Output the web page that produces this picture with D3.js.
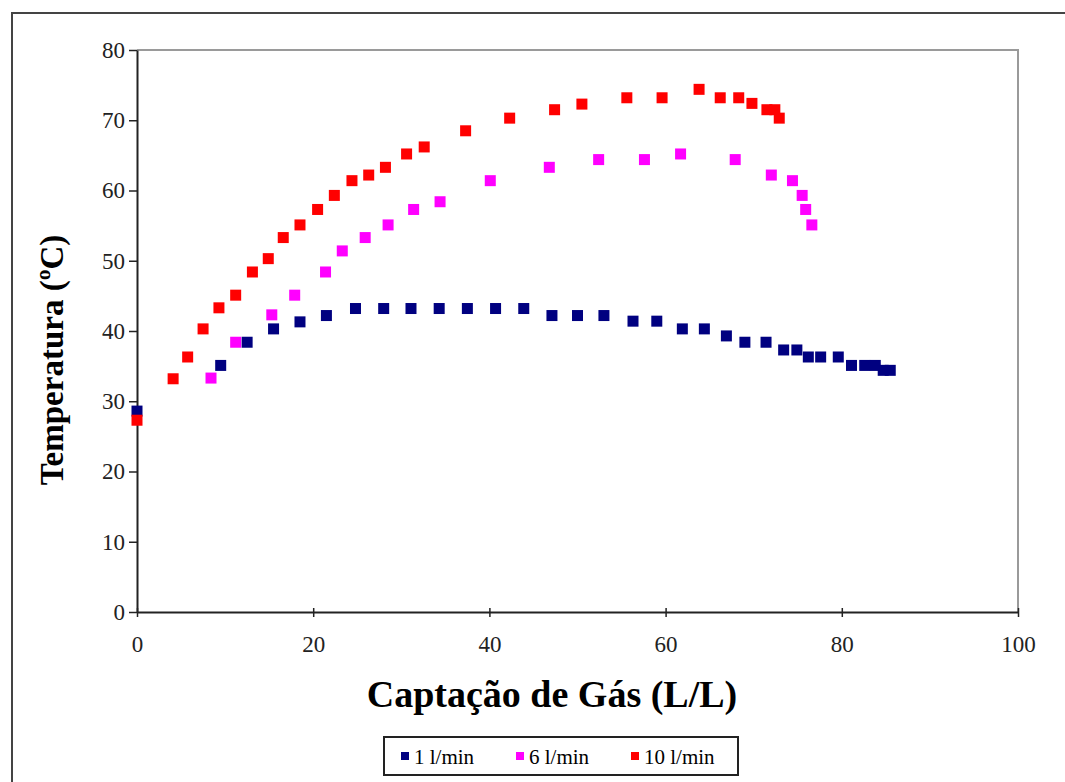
<!DOCTYPE html>
<html>
<head>
<meta charset="utf-8">
<script src="https://cdn.jsdelivr.net/npm/d3@7"></script>
<style>
  html, body { margin: 0; padding: 0; background: #fff; }
  svg { display: block; }
  text { font-family: "Liberation Serif", "Times New Roman", serif; fill: #000; }
</style>
</head>
<body>
<svg id="chart" width="1065" height="782"></svg>
<script>
// Gas uptake (L/L) vs temperature (°C) for three gas flow rates
const series = ["1 l/min", "6 l/min", "10 l/min"];
const colors = ["#000080", "#ff00ff", "#ff0000"];

const flow1X = [0, 9.5, 12.5, 15.5, 18.5, 21.5, 24.8, 28.0, 31.1, 34.3, 37.5, 40.7, 43.9, 47.1, 50.0, 53.0,
  56.3, 59.0, 61.9, 64.4, 66.9, 69.0, 71.4, 73.4, 74.9, 76.2, 77.6, 79.6, 81.1, 82.6, 83.8, 84.7, 85.5];
const flow1Y = [28.6, 35.1, 38.4, 40.3, 41.3, 42.2, 43.2, 43.2, 43.2, 43.2, 43.2, 43.2, 43.2, 42.2, 42.2, 42.2,
  41.4, 41.4, 40.3, 40.3, 39.3, 38.4, 38.4, 37.3, 37.3, 36.3, 36.3, 36.3, 35.1, 35.1, 35.1, 34.4, 34.4];

const flow6X = [8.4, 11.2, 15.3, 17.9, 21.4, 23.3, 25.9, 28.5, 31.4, 34.4, 40.1, 46.8, 52.4, 57.6, 61.7,
  67.9, 72.0, 74.4, 75.5, 75.9, 76.6];
const flow6Y = [33.3, 38.4, 42.3, 45.1, 48.4, 51.4, 53.3, 55.1, 57.3, 58.4, 61.4, 63.3, 64.4, 64.4, 65.2,
  64.4, 62.2, 61.4, 59.3, 57.3, 55.1];

const flow10X = [0, 4.1, 5.75, 7.5, 9.3, 11.2, 13.1, 14.9, 16.6, 18.5, 20.5, 22.4, 24.4, 26.3, 28.2, 30.6,
  32.6, 37.3, 42.3, 47.4, 50.5, 55.6, 59.6, 63.8, 66.2, 68.3, 69.8, 71.5, 72.4, 72.9];
const flow10Y = [27.3, 33.2, 36.3, 40.3, 43.3, 45.1, 48.4, 50.3, 53.3, 55.1, 57.3, 59.3, 61.4, 62.2, 63.3, 65.2,
  66.2, 68.5, 70.3, 71.5, 72.3, 73.2, 73.2, 74.4, 73.2, 73.2, 72.4, 71.5, 71.5, 70.3];

const xTicks = [0, 20, 40, 60, 80, 100];
const yTicks = [0, 10, 20, 30, 40, 50, 60, 70, 80];

const xTitle = "Captação de Gás (L/L)";
const yTitle = "Temperatura (ºC)";

const seriesData = [
  flow1X.map((x, i) => ({ x, y: flow1Y[i] })),
  flow6X.map((x, i) => ({ x, y: flow6Y[i] })),
  flow10X.map((x, i) => ({ x, y: flow10Y[i] }))
];

const serif = '"Liberation Serif", "Times New Roman", serif';
const svg = d3.select("#chart");

// outer chart frame (runs past the right and bottom edges)
svg.append("rect")
  .attr("x", 12).attr("y", 13)
  .attr("width", 1100).attr("height", 820)
  .attr("fill", "none").attr("stroke", "#444").attr("stroke-width", 2);

const plot = { left: 137, top: 50, right: 1018, bottom: 612 };

const x = d3.scaleLinear().domain([0, 100]).range([plot.left, plot.right]);
const y = d3.scaleLinear().domain([0, 80]).range([plot.bottom, plot.top]);

// plot area border (top and right)
svg.append("path")
  .attr("d", `M${plot.left},${plot.top}H${plot.right}V${plot.bottom}`)
  .attr("fill", "none").attr("stroke", "#9a9a9a").attr("stroke-width", 2);

// y axis
const yAxis = svg.append("g")
  .attr("transform", `translate(${plot.left},0)`)
  .call(d3.axisLeft(y).tickValues(yTicks).tickSize(8).tickPadding(4).tickSizeOuter(0));
yAxis.attr("font-family", null);
yAxis.select(".domain").attr("stroke", "#222").attr("stroke-width", 2);
yAxis.selectAll(".tick line").attr("stroke", "#222").attr("stroke-width", 1.5);
yAxis.selectAll("text").style("font-family", serif).style("font-size", "23px").style("fill", "#222");

// x axis
const xAxis = svg.append("g")
  .attr("transform", `translate(0,${plot.bottom})`)
  .call(d3.axisBottom(x).tickValues(xTicks).tickSize(5).tickPadding(19).tickSizeOuter(0));
xAxis.attr("font-family", null);
xAxis.select(".domain").attr("stroke", "#222").attr("stroke-width", 2);
xAxis.selectAll(".tick line").attr("stroke", "#222").attr("stroke-width", 1.5).attr("y1", -4);
xAxis.selectAll("text").style("font-family", serif).style("font-size", "23px").style("fill", "#222");

// markers
const ms = 11;
seriesData.forEach((pts, si) => {
  svg.append("g")
    .selectAll("rect")
    .data(pts)
    .join("rect")
    .attr("x", d => x(d.x) - ms / 2)
    .attr("y", d => y(d.y) - ms / 2)
    .attr("width", ms).attr("height", ms)
    .attr("fill", colors[si]);
});

// axis titles
svg.append("text")
  .attr("x", 552).attr("y", 707)
  .attr("text-anchor", "middle")
  .style("font-family", serif)
  .style("font-size", "38px").style("font-weight", "bold")
  .text(xTitle);

svg.append("text")
  .attr("transform", "translate(63,360) rotate(-90)")
  .attr("text-anchor", "middle")
  .style("font-family", serif)
  .style("font-size", "33px").style("font-weight", "bold")
  .text(yTitle);

// legend
const legend = svg.append("g");
legend.append("rect")
  .attr("x", 384).attr("y", 737).attr("width", 354).attr("height", 38)
  .attr("fill", "#fff").attr("stroke", "#222").attr("stroke-width", 2);

const legendX = [401, 516, 631];
series.forEach((name, i) => {
  legend.append("rect")
    .attr("x", legendX[i]).attr("y", 752)
    .attr("width", 8).attr("height", 8)
    .attr("fill", colors[i]);
  legend.append("text")
    .attr("x", legendX[i] + 13).attr("y", 764)
    .style("font-family", serif)
    .style("font-size", "21px")
    .text(name);
});
</script>
</body>
</html>
